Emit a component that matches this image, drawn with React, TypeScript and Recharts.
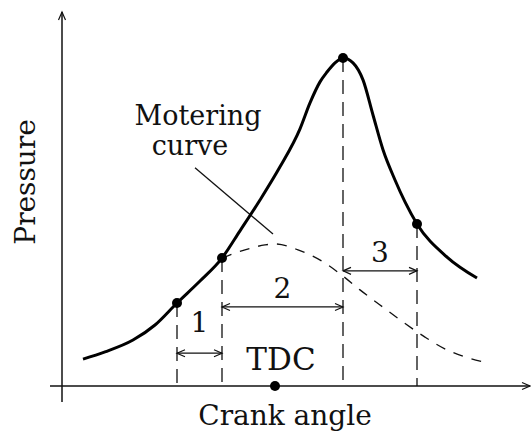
import { ComposedChart, Line, XAxis, YAxis, ReferenceLine, ReferenceDot } from 'recharts'

// fired cycle: cylinder pressure vs crank angle (deg, TDC = 0)
const firedAngle = [-48, -42.5, -35.5, -30, -24.5, -18.75, -13.25, -8.75, -3.75, 1.25, 6.25, 8.75, 11.25, 13, 15, 17, 19.5, 22, 24.5, 27, 30, 32.5, 35.5, 43, 50.5]
const firedPressure = [8.2, 10.4, 14.0, 18.6, 25.3, 32.0, 39.0, 47.3, 56.7, 66.8, 78.4, 86.3, 92.7, 95.7, 98.5, 100, 98.5, 93.3, 82.6, 72.0, 62.8, 56.1, 49.4, 39.3, 32.9]

// motoring (no combustion) curve
const motoringAngle = [-13.25, -7.5, -2.5, 0, 5.75, 12.5, 17, 21.25, 26.25, 32, 37.5, 43, 47.75, 52.25]
const motoringPressure = [39.0, 41.5, 43.0, 43.3, 41.5, 37.5, 33.5, 29.3, 24.7, 19.5, 14.9, 11.0, 8.8, 7.3]

// spark, start of pressure rise, peak pressure, end of rapid burning
const eventAngles = [-24.5, -13.25, 17, 35.5]
const tdcAngle = 0

const phaseLabels = ['1', '2', '3']
const phaseArrowPressure = [10, 24.1, 35.1]
const phaseLabelPressure = [16.5, 26.8, 37.8]

const firedData = firedAngle.map((a, i) => ({ angle: a, pressure: firedPressure[i] }))
const motoringData = motoringAngle.map((a, i) => ({ angle: a, pressure: motoringPressure[i] }))
const eventPressure = eventAngles.map((a) => firedPressure[firedAngle.indexOf(a)])

const INK = '#111'
const FONT = 'DejaVu Serif'

// line with optional open arrow heads
const arrowLine = (heads: 'none' | 'end' | 'both', width = 1.3, dash?: string) => (props: any) => {
  const { x1, y1, x2, y2 } = props
  const len = Math.hypot(x2 - x1, y2 - y1) || 1
  const ux = (x2 - x1) / len
  const uy = (y2 - y1) / len
  const L = 8
  const W = 3.5
  const tip = (tx: number, ty: number, sx: number, sy: number) =>
    `M${tx - sx * L - sy * W},${ty - sy * L + sx * W} L${tx},${ty} L${tx - sx * L + sy * W},${ty - sy * L - sx * W}`
  let d = ''
  if (heads !== 'none') d += tip(x2, y2, ux, uy)
  if (heads === 'both') d += ' ' + tip(x1, y1, -ux, -uy)
  return (
    <g>
      <line x1={x1} y1={y1} x2={x2} y2={y2} stroke={INK} strokeWidth={width} strokeDasharray={dash} />
      {d && <path d={d} fill="none" stroke={INK} strokeWidth={1.2} />}
    </g>
  )
}

const textLabel = (text: string, size: number, rotate = false) => ({
  content: ({ viewBox }: any) => {
    const x = viewBox.x + (viewBox.width || 0) / 2
    const y = viewBox.y + (viewBox.height || 0) / 2
    return (
      <text
        x={x}
        y={y}
        textAnchor="middle"
        fontFamily={FONT}
        fontSize={size}
        fill={INK}
        transform={rotate ? `rotate(-90 ${x} ${y})` : undefined}
      >
        {text}
      </text>
    )
  },
})

const EventDot = (props: any) => {
  const { cx, cy, payload, index } = props
  if (!eventAngles.includes(payload.angle)) return <g key={index} />
  return <circle key={index} cx={cx} cy={cy} r={5} fill="#000" />
}

export default function App() {
  return (
    <div style={{ position: 'absolute', left: 0, top: 0, width: 531, height: 432, background: '#fff' }}>
      <ComposedChart width={531} height={432} margin={{ top: 12, right: 4, bottom: 46, left: 59 }}>
        <XAxis type="number" dataKey="angle" domain={[-54, 63]} hide allowDataOverflow />
        <YAxis type="number" dataKey="pressure" domain={[0, 114]} hide allowDataOverflow />

        {/* axes */}
        <ReferenceLine segment={[{ x: -53.25, y: -4.9 }, { x: -53.25, y: 114 }]} ifOverflow="visible" shape={arrowLine('end', 1.5)} />
        <ReferenceLine segment={[{ x: -56.25, y: 0 }, { x: 63.75, y: 0 }]} ifOverflow="visible" shape={arrowLine('end', 1.5)} />

        {/* event markers */}
        {eventAngles.map((a, i) => (
          <ReferenceLine
            key={'v' + i}
            segment={[{ x: a, y: eventPressure[i] }, { x: a, y: 0 }]}
            ifOverflow="visible"
            shape={arrowLine('none', 1.3, '14 8')}
          />
        ))}

        {/* phase dimension arrows */}
        {phaseLabels.map((lab, i) => (
          <ReferenceLine
            key={'a' + i}
            segment={[{ x: eventAngles[i], y: phaseArrowPressure[i] }, { x: eventAngles[i + 1], y: phaseArrowPressure[i] }]}
            ifOverflow="visible"
            shape={arrowLine('both', 1.2)}
          />
        ))}
        {phaseLabels.map((lab, i) => (
          <ReferenceDot
            key={'l' + i}
            x={(eventAngles[i] + eventAngles[i + 1]) / 2}
            y={phaseLabelPressure[i]}
            r={0}
            ifOverflow="visible"
            label={textLabel(lab, 28)}
          />
        ))}

        {/* motoring curve pointer */}
        <ReferenceLine segment={[{ x: -20, y: 66.5 }, { x: -0.5, y: 46.3 }]} ifOverflow="visible" shape={arrowLine('none', 1.3)} />

        <Line
          data={motoringData}
          dataKey="pressure"
          type="monotone"
          stroke={INK}
          strokeWidth={1.3}
          strokeDasharray="10 9"
          dot={false}
          activeDot={false}
          isAnimationActive={false}
        />
        <Line
          data={firedData}
          dataKey="pressure"
          type="monotone"
          stroke="#000"
          strokeWidth={3}
          dot={EventDot}
          activeDot={false}
          isAnimationActive={false}
        />

        <ReferenceDot x={tdcAngle} y={0} r={5} fill="#000" stroke="none" ifOverflow="visible" />

        <ReferenceDot x={1.5} y={4.9} r={0} ifOverflow="visible" label={textLabel('TDC', 31)} />
        <ReferenceDot x={-19.25} y={79.6} r={0} ifOverflow="visible" label={textLabel('Motering', 27)} />
        <ReferenceDot x={-21.25} y={70.4} r={0} ifOverflow="visible" label={textLabel('curve', 27)} />
        <ReferenceDot x={2.5} y={-11.9} r={0} ifOverflow="visible" label={textLabel('Crank angle', 28)} />
        <ReferenceDot x={-60} y={62.2} r={0} ifOverflow="visible" label={textLabel('Pressure', 28, true)} />
      </ComposedChart>
    </div>
  )
}
